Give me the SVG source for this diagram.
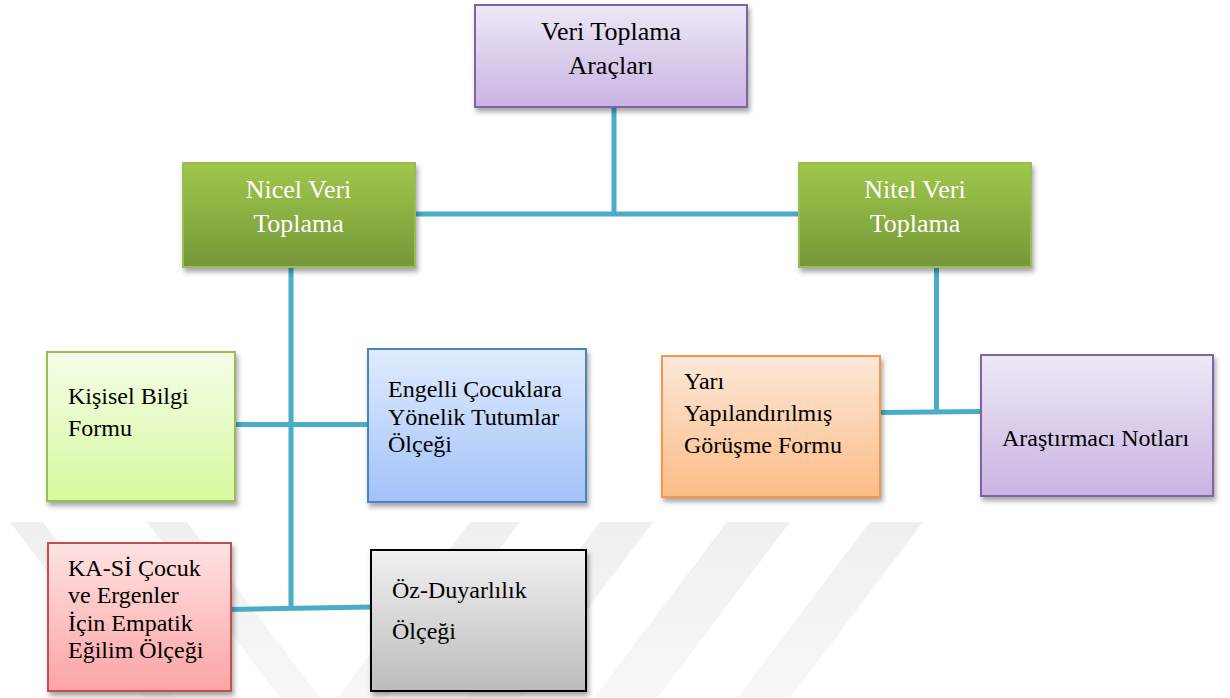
<svg xmlns="http://www.w3.org/2000/svg" width="1230" height="698" viewBox="0 0 1230 698">
<style>
text{font-family:'Liberation Serif','Times New Roman',Times,'DejaVu Serif',serif}
.t{fill:#000;font-size:24px}
.h{fill:#000;font-size:26px;text-anchor:middle}
.w{fill:#fff}
.c{stroke:#4bacc6;stroke-width:5;fill:none;stroke-linecap:butt}
.box{stroke-width:2}
.wm{fill:url(#gWm)}
</style>
<defs>
<filter id="sh" x="-10%" y="-10%" width="125%" height="130%">
<feDropShadow dx="2" dy="4" stdDeviation="2.5" flood-color="#000" flood-opacity="0.35"/>
</filter>
<linearGradient id="gWm" gradientUnits="userSpaceOnUse" x1="0" y1="522" x2="0" y2="698"><stop offset="0" stop-color="#efefef"/><stop offset="1" stop-color="#f7f7f7"/></linearGradient>
<linearGradient id="gPur" x1="0" y1="0" x2="0" y2="1"><stop offset="0" stop-color="#eee8f6"/><stop offset="1" stop-color="#c8b4e2"/></linearGradient>
<linearGradient id="gGrn" x1="0" y1="0" x2="0" y2="1"><stop offset="0" stop-color="#9fc84b"/><stop offset="1" stop-color="#769639"/></linearGradient>
<linearGradient id="gLgr" x1="0" y1="0" x2="0" y2="1"><stop offset="0" stop-color="#f5fde8"/><stop offset="1" stop-color="#d6f99e"/></linearGradient>
<linearGradient id="gBlu" x1="0" y1="0" x2="0" y2="1"><stop offset="0" stop-color="#e0ebfc"/><stop offset="1" stop-color="#a2c2fa"/></linearGradient>
<linearGradient id="gOra" x1="0" y1="0" x2="0" y2="1"><stop offset="0" stop-color="#fde8d9"/><stop offset="1" stop-color="#fcbc86"/></linearGradient>
<linearGradient id="gPnk" x1="0" y1="0" x2="0" y2="1"><stop offset="0" stop-color="#fee2e2"/><stop offset="1" stop-color="#fca4a4"/></linearGradient>
<linearGradient id="gGry" x1="0" y1="0" x2="0" y2="1"><stop offset="0" stop-color="#f0f0f0"/><stop offset="1" stop-color="#bcbcbc"/></linearGradient>
</defs>
<rect width="1230" height="698" fill="#fff"/>
<g id="watermark">
<polygon class="wm" points="10,522 43,522 176,698 143,698"/>
<polygon class="wm" points="147,522 187,522 320,698 280,698"/>
<polygon class="wm" points="470,522 520,522 387,698 337,698"/>
<polygon class="wm" points="600,522 653,522 520,698 467,698"/>
<polygon class="wm" points="727,522 790,522 657,698 594,698"/>
<polygon class="wm" points="870,522 923,522 790,698 737,698"/>
</g>
<g id="connectors">
<line class="c" x1="614" y1="108" x2="614" y2="214"/>
<line class="c" x1="415" y1="214" x2="799" y2="214"/>
<line class="c" x1="291" y1="267" x2="291" y2="608"/>
<line class="c" x1="235" y1="424.5" x2="368" y2="424.5"/>
<line class="c" x1="231" y1="609.5" x2="371" y2="607"/>
<line class="c" x1="936.5" y1="267" x2="936.5" y2="412"/>
<line class="c" x1="880" y1="412.5" x2="981" y2="411.5"/>
</g>
<g id="n-top">
<rect class="box" x="475" y="5" width="272" height="102" fill="url(#gPur)" stroke="#8064a2" filter="url(#sh)"/>
<text class="h" x="611" y="40">Veri Toplama</text>
<text class="h" x="611" y="74">Araçları</text>
</g>
<g id="n-nicel">
<rect class="box" x="183" y="163" width="232" height="104" fill="url(#gGrn)" stroke="#9bbb59" filter="url(#sh)"/>
<text class="h w" x="298.5" y="198">Nicel Veri</text>
<text class="h w" x="298.5" y="232">Toplama</text>
</g>
<g id="n-nitel">
<rect class="box" x="799" y="163" width="232" height="104" fill="url(#gGrn)" stroke="#9bbb59" filter="url(#sh)"/>
<text class="h w" x="915" y="198">Nitel Veri</text>
<text class="h w" x="915" y="232">Toplama</text>
</g>
<g id="n-kisisel">
<rect class="box" x="47" y="352" width="188" height="149" fill="url(#gLgr)" stroke="#9bbb59" filter="url(#sh)"/>
<text class="t" x="68" y="404">Kişisel Bilgi</text>
<text class="t" x="68" y="436">Formu</text>
</g>
<g id="n-engelli">
<rect class="box" x="368" y="349" width="218" height="153" fill="url(#gBlu)" stroke="#4f81bd" filter="url(#sh)"/>
<text class="t" x="388" y="397">Engelli Çocuklara</text>
<text class="t" x="388" y="425">Yönelik Tutumlar</text>
<text class="t" x="388" y="452">Ölçeği</text>
</g>
<g id="n-yari">
<rect class="box" x="662" y="356" width="218" height="141" fill="url(#gOra)" stroke="#f79646" filter="url(#sh)"/>
<text class="t" x="684" y="389">Yarı</text>
<text class="t" x="684" y="421">Yapılandırılmış</text>
<text class="t" x="684" y="453">Görüşme Formu</text>
</g>
<g id="n-arastirmaci">
<rect class="box" x="981" y="355" width="232" height="141" fill="url(#gPur)" stroke="#8064a2" filter="url(#sh)"/>
<text class="t" x="1002" y="446">Araştırmacı Notları</text>
</g>
<g id="n-kasi">
<rect class="box" x="48" y="543" width="183" height="148" fill="url(#gPnk)" stroke="#c0504d" filter="url(#sh)"/>
<text class="t" x="68" y="576">KA-Sİ Çocuk</text>
<text class="t" x="68" y="603">ve Ergenler</text>
<text class="t" x="68" y="631">İçin Empatik</text>
<text class="t" x="68" y="658">Eğilim Ölçeği</text>
</g>
<g id="n-oz">
<rect class="box" x="371" y="550" width="215" height="141" fill="url(#gGry)" stroke="#000" filter="url(#sh)"/>
<text class="t" x="392" y="598">Öz-Duyarlılık</text>
<text class="t" x="392" y="639">Ölçeği</text>
</g>
</svg>
